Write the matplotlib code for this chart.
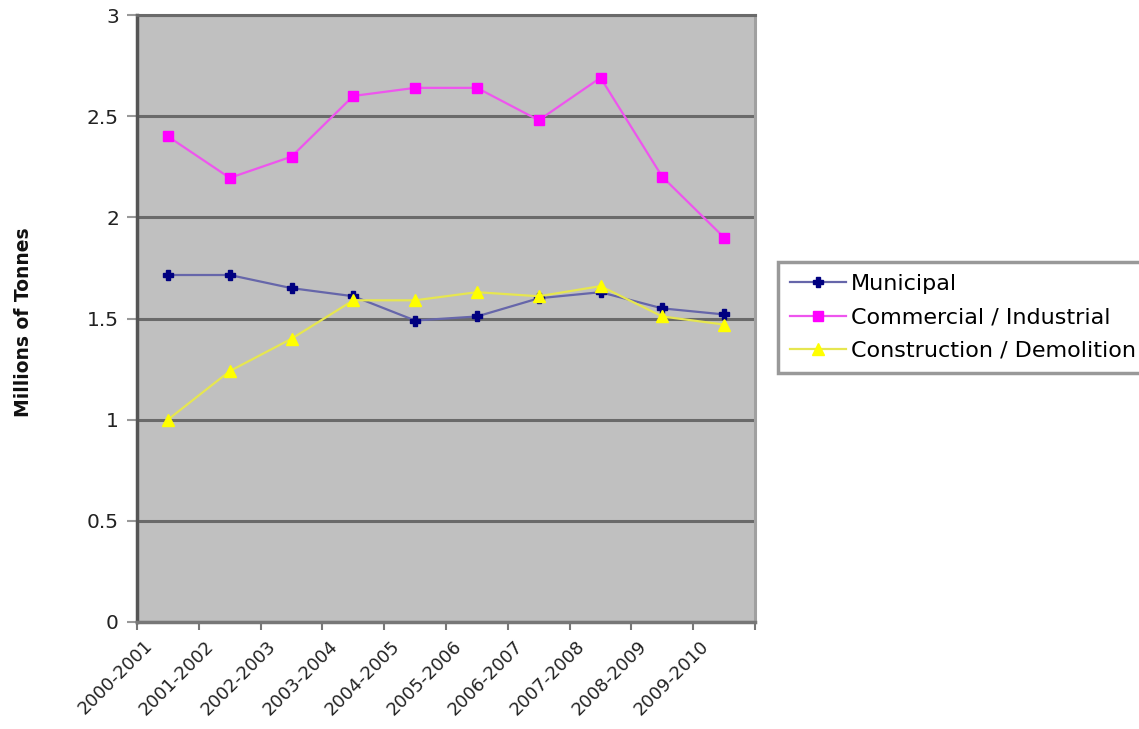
import matplotlib
matplotlib.use("Agg")
import matplotlib.pyplot as plt
from matplotlib.transforms import ScaledTranslation

plt.rcParams['font.family'] = ['DejaVu Sans']

years = ['2000-2001', '2001-2002', '2002-2003', '2003-2004', '2004-2005',
         '2005-2006', '2006-2007', '2007-2008', '2008-2009', '2009-2010']
municipal = [1.715, 1.715, 1.65, 1.61, 1.49, 1.51, 1.60, 1.63, 1.55, 1.52]
commercial = [2.40, 2.195, 2.30, 2.60, 2.64, 2.64, 2.48, 2.69, 2.20, 1.90]
construction = [1.00, 1.24, 1.40, 1.59, 1.59, 1.63, 1.61, 1.66, 1.51, 1.47]

fig = plt.figure(figsize=(11.39, 7.29), dpi=100)
ax = fig.add_axes([0.1203, 0.1468, 0.5426, 0.8326])
ax.set_facecolor('#c0c0c0')

x = list(range(len(years)))
ax.plot(x, municipal, color='#6666aa', lw=1.6, marker='P', ms=7,
        mfc='#000080', mec='#000080', label='Municipal', zorder=3)
ax.plot(x, commercial, color='#ee55ee', lw=1.6, marker='s', ms=7.5,
        mfc='#ff00ff', mec='#ff00ff', label='Commercial / Industrial', zorder=3)
ax.plot(x, construction, color='#e6e650', lw=1.6, marker='^', ms=8,
        mfc='#ffff00', mec='#ffff00', label='Construction / Demolition', zorder=3)

ax.set_xlim(-0.5, len(years) - 0.5)
ax.set_ylim(0, 3)
ax.set_yticks([0, 0.5, 1, 1.5, 2, 2.5, 3])
ax.set_yticklabels(['0', '0.5', '1', '1.5', '2', '2.5', '3'])
ax.yaxis.grid(True, color='#6a6a6a', lw=2.2)
ax.set_axisbelow(True)

ax.set_xticks(x)
ax.set_xticks([i - 0.5 for i in range(len(years) + 1)], minor=True)
ax.tick_params(axis='x', which='major', length=0, labelsize=13, colors='#222222')
ax.tick_params(axis='x', which='minor', length=6, width=1.5, color='#777777')
ax.tick_params(axis='y', length=7, width=1.5, color='#999999', labelsize=14.5,
               labelcolor='#222222', pad=6)
ax.set_xticklabels(years, rotation=45, ha='right', va='top')
offset = ScaledTranslation(-0.12, -0.10, fig.dpi_scale_trans)
for lab in ax.get_xticklabels():
    lab.set_transform(lab.get_transform() + offset)

ax.spines['left'].set_color('#555555')
ax.spines['left'].set_linewidth(2.5)
ax.spines['bottom'].set_color('#777777')
ax.spines['bottom'].set_linewidth(2.5)
ax.spines['top'].set_color('#6a6a6a')
ax.spines['top'].set_linewidth(2.2)
ax.spines['right'].set_color('#a0a0a0')
ax.spines['right'].set_linewidth(2.2)

fig.text(24 / 1139, 1 - 322 / 729, 'Millions of Tonnes', rotation=90,
         ha='center', va='center', fontsize=13.5, fontweight='bold', color='#111111')

leg = fig.legend(loc='upper left', bbox_to_anchor=(778 / 1139, 1 - 262 / 729),
                 fontsize=16, frameon=True, fancybox=False, handlelength=2.5,
                 handletextpad=0.25, labelspacing=0.6, borderpad=0.55,
                 borderaxespad=0)
leg.get_frame().set_edgecolor('#808080')
leg.get_frame().set_linewidth(2.5)

fig.savefig('out.png', dpi=100)
